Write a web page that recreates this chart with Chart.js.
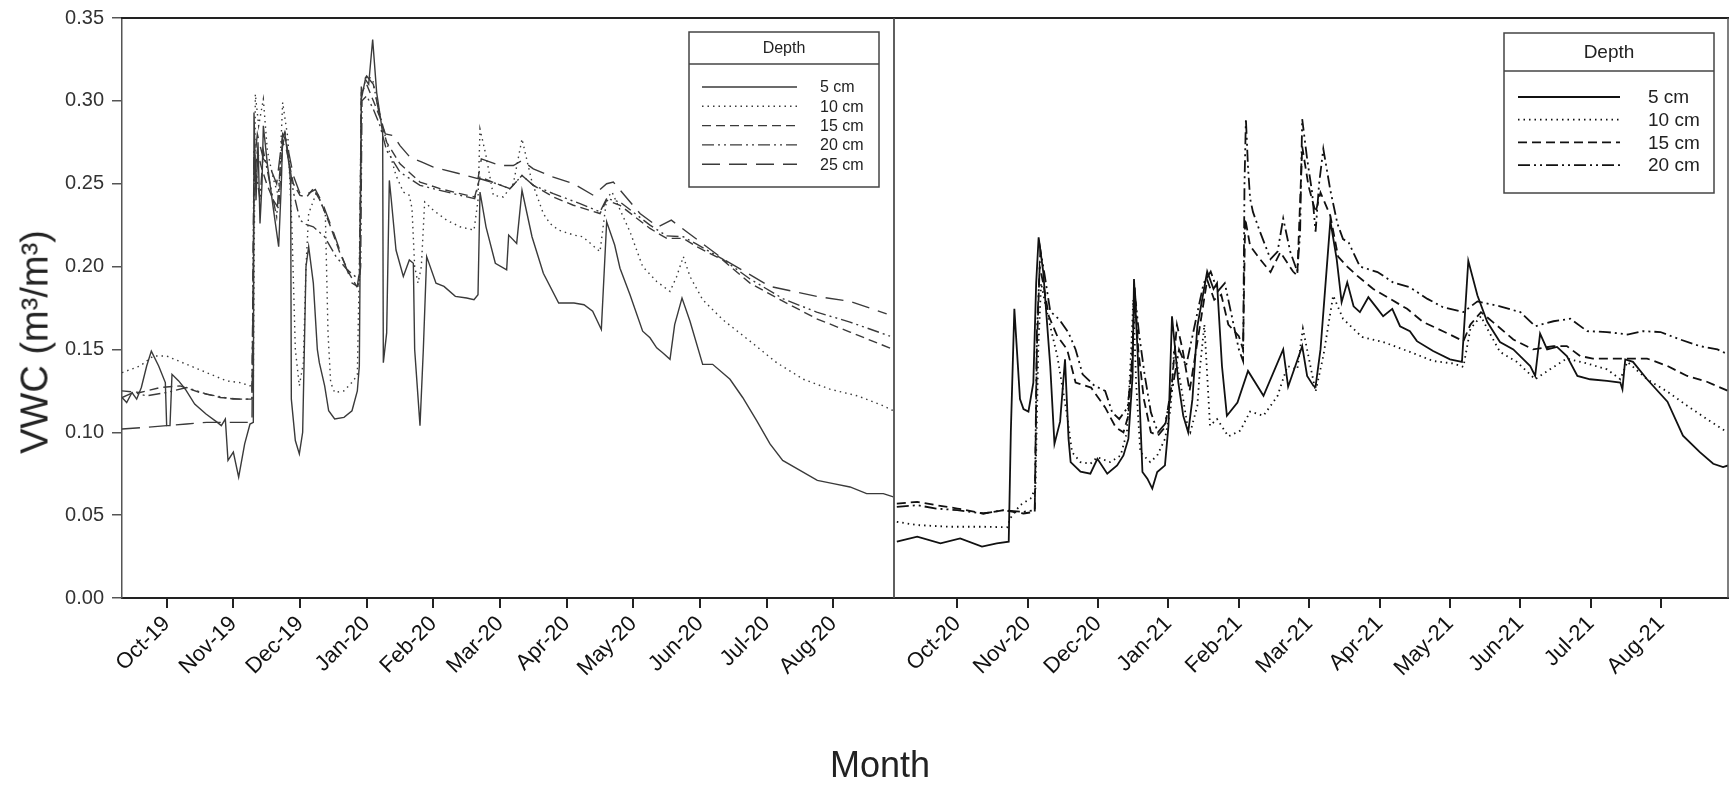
<!DOCTYPE html>
<html>
<head>
<meta charset="utf-8">
<script src="https://cdn.jsdelivr.net/npm/chart.js@4/dist/chart.umd.min.js"></script>
<style>
  body { margin: 0; background: #fff; width: 1731px; height: 789px; overflow: hidden; position: relative; font-family: "Liberation Sans", Arial, sans-serif; }
  #left { position: absolute; left: 0; top: 0; }
  #right { position: absolute; left: 880px; top: 0; }
  #ytitle { position: absolute; left: 35px; top: 342px; transform: translate(-50%, -50%) rotate(-90deg); font-size: 38px; white-space: nowrap; color: #222; }
  #xtitle { position: absolute; left: 880px; top: 765px; transform: translate(-50%, -50%); font-size: 36px; color: #222; }
</style>
</head>
<body>
<canvas id="left" width="896" height="789"></canvas>
<canvas id="right" width="851" height="789"></canvas>
<div id="ytitle">VWC (m³/m³)</div>
<div id="xtitle">Month</div>
<script>
// x values are months counted from the first tick (Oct), y values are VWC
const leftMonths = ['Oct-19', 'Nov-19', 'Dec-19', 'Jan-20', 'Feb-20', 'Mar-20', 'Apr-20', 'May-20', 'Jun-20', 'Jul-20', 'Aug-20']
const rightMonths = ['Oct-20', 'Nov-20', 'Dec-20', 'Jan-21', 'Feb-21', 'Mar-21', 'Apr-21', 'May-21', 'Jun-21', 'Jul-21', 'Aug-21']
const depths = ['5 cm', '10 cm', '15 cm', '20 cm', '25 cm']
const yTicks = [0, 0.05, 0.10, 0.15, 0.20, 0.25, 0.30, 0.35]

const left5 = [[-0.67,0.121],[-0.6,0.118],[-0.52,0.124],[-0.45,0.12],[-0.38,0.127],[-0.3,0.14],[-0.23,0.149],[-0.12,0.14],[-0.02,0.13],[0,0.104],[0.05,0.104],[0.08,0.135],[0.18,0.131],[0.28,0.126],[0.42,0.117],[0.59,0.111],[0.76,0.106],[0.82,0.104],[0.88,0.108],[0.92,0.083],[1,0.088],[1.08,0.073],[1.17,0.093],[1.25,0.105],[1.3,0.106],[1.31,0.293],[1.34,0.24],[1.37,0.275],[1.4,0.226],[1.43,0.25],[1.45,0.285],[1.51,0.262],[1.6,0.235],[1.68,0.212],[1.72,0.25],[1.74,0.278],[1.77,0.281],[1.84,0.26],[1.86,0.25],[1.87,0.12],[1.93,0.095],[1.99,0.087],[2.04,0.1],[2.09,0.2],[2.13,0.212],[2.2,0.19],[2.26,0.15],[2.29,0.142],[2.37,0.128],[2.43,0.113],[2.52,0.108],[2.66,0.109],[2.78,0.113],[2.86,0.125],[2.89,0.14],[2.92,0.301],[2.98,0.313],[3.03,0.31],[3.09,0.337],[3.15,0.305],[3.21,0.289],[3.24,0.28],[3.25,0.142],[3.3,0.16],[3.34,0.252],[3.37,0.24],[3.44,0.21],[3.55,0.194],[3.64,0.204],[3.7,0.202],[3.72,0.15],[3.8,0.104],[3.85,0.15],[3.9,0.206],[4.04,0.19],[4.16,0.188],[4.33,0.182],[4.5,0.181],[4.61,0.18],[4.67,0.183],[4.7,0.245],[4.79,0.224],[4.93,0.202],[5.1,0.198],[5.13,0.219],[5.25,0.214],[5.33,0.246],[5.48,0.218],[5.65,0.196],[5.88,0.178],[6.11,0.178],[6.26,0.177],[6.39,0.173],[6.52,0.162],[6.6,0.227],[6.72,0.213],[6.8,0.199],[6.95,0.183],[7.14,0.161],[7.25,0.157],[7.35,0.151],[7.44,0.148],[7.55,0.144],[7.62,0.165],[7.73,0.181],[7.85,0.167],[8.04,0.141],[8.19,0.141],[8.45,0.132],[8.64,0.121],[8.85,0.107],[9.05,0.093],[9.24,0.083],[9.5,0.077],[9.76,0.071],[10,0.069],[10.25,0.067],[10.5,0.063],[10.75,0.063],[10.9,0.061]]
const left10 = [[-0.67,0.136],[-0.4,0.14],[-0.2,0.146],[0,0.146],[0.3,0.141],[0.6,0.136],[0.9,0.131],[1.1,0.13],[1.25,0.128],[1.3,0.13],[1.33,0.304],[1.38,0.285],[1.45,0.301],[1.51,0.27],[1.6,0.253],[1.68,0.242],[1.74,0.299],[1.82,0.277],[1.88,0.222],[1.93,0.15],[1.99,0.128],[2.05,0.142],[2.09,0.2],[2.13,0.232],[2.25,0.245],[2.38,0.232],[2.42,0.16],[2.46,0.13],[2.52,0.124],[2.66,0.125],[2.8,0.131],[2.86,0.135],[2.89,0.2],[2.92,0.303],[3,0.315],[3.09,0.313],[3.15,0.3],[3.24,0.285],[3.3,0.275],[3.44,0.255],[3.55,0.245],[3.64,0.243],[3.68,0.235],[3.72,0.2],[3.77,0.19],[3.82,0.2],[3.87,0.239],[4,0.234],[4.2,0.228],[4.4,0.224],[4.61,0.222],[4.67,0.24],[4.7,0.283],[4.79,0.267],[4.9,0.243],[5.05,0.242],[5.2,0.25],[5.33,0.277],[5.48,0.251],[5.65,0.232],[5.75,0.226],[5.88,0.222],[6.11,0.219],[6.24,0.218],[6.5,0.209],[6.6,0.241],[6.68,0.245],[6.95,0.221],[7.14,0.2],[7.35,0.191],[7.55,0.185],[7.65,0.194],[7.75,0.206],[7.85,0.194],[8.04,0.18],[8.34,0.168],[8.75,0.155],[9.15,0.142],[9.55,0.132],[9.95,0.126],[10.36,0.122],[10.75,0.116],[10.9,0.113]]
const left15 = [[-0.67,0.125],[-0.4,0.124],[-0.1,0.127],[0.2,0.128],[0.5,0.124],[0.8,0.121],[1.1,0.12],[1.28,0.12],[1.31,0.25],[1.36,0.27],[1.42,0.26],[1.5,0.25],[1.6,0.24],[1.68,0.235],[1.74,0.275],[1.8,0.27],[1.9,0.25],[2,0.243],[2.1,0.242],[2.2,0.247],[2.3,0.24],[2.45,0.225],[2.6,0.208],[2.75,0.195],[2.85,0.188],[2.89,0.19],[2.92,0.305],[3,0.31],[3.1,0.3],[3.2,0.29],[3.3,0.275],[3.5,0.262],[3.8,0.251],[4.1,0.247],[4.4,0.244],[4.62,0.242],[4.7,0.254],[4.95,0.25],[5.15,0.247],[5.33,0.255],[5.5,0.249],[5.8,0.242],[6.1,0.237],[6.5,0.232],[6.6,0.24],[6.8,0.237],[7.25,0.223],[7.5,0.217],[7.75,0.217],[7.95,0.212],[8.34,0.204],[8.75,0.19],[9.25,0.179],[9.75,0.1685],[10.25,0.1605],[10.9,0.15]]
const left20 = [[-0.67,0.121],[-0.5,0.124],[-0.3,0.122],[0,0.124],[0.3,0.127],[0.6,0.123],[1,0.12],[1.28,0.12],[1.31,0.27],[1.35,0.255],[1.4,0.24],[1.45,0.27],[1.55,0.25],[1.65,0.23],[1.72,0.27],[1.78,0.28],[1.9,0.245],[2,0.228],[2.09,0.2255],[2.2,0.224],[2.37,0.218],[2.54,0.206],[2.71,0.198],[2.89,0.192],[2.91,0.2],[2.93,0.3],[3,0.303],[3.1,0.295],[3.2,0.285],[3.3,0.27],[3.5,0.257],[3.8,0.249],[4.1,0.246],[4.4,0.243],[4.62,0.241],[4.7,0.253],[4.95,0.25],[5.15,0.247],[5.33,0.255],[5.5,0.249],[5.8,0.244],[6.2,0.238],[6.5,0.233],[6.6,0.241],[6.8,0.239],[7.25,0.225],[7.5,0.2185],[7.75,0.218],[7.95,0.2135],[8.34,0.2045],[8.75,0.1925],[9.25,0.1805],[9.75,0.1725],[10.25,0.1665],[10.85,0.158]]
const left25 = [[-0.67,0.102],[-0.3,0.103],[0,0.104],[0.3,0.105],[0.6,0.106],[1,0.106],[1.28,0.106],[1.31,0.26],[1.36,0.28],[1.45,0.265],[1.55,0.26],[1.65,0.25],[1.74,0.28],[1.8,0.275],[1.9,0.255],[2,0.244],[2.09,0.2435],[2.23,0.2465],[2.34,0.238],[2.49,0.222],[2.63,0.206],[2.78,0.19],[2.86,0.188],[2.9,0.2],[2.92,0.31],[3,0.315],[3.1,0.31],[3.2,0.29],[3.28,0.28],[3.4,0.279],[3.5,0.273],[3.65,0.266],[3.83,0.263],[4,0.26],[4.4,0.256],[4.67,0.253],[4.72,0.265],[5,0.261],[5.2,0.261],[5.33,0.264],[5.5,0.259],[5.8,0.254],[6.1,0.25],[6.4,0.243],[6.6,0.25],[6.7,0.251],[7.1,0.232],[7.37,0.224],[7.57,0.228],[7.8,0.221],[8.35,0.2045],[9.05,0.188],[9.75,0.182],[10.25,0.179],[10.8,0.1715]]

const right5 = [[-0.86,0.034],[-0.57,0.037],[-0.24,0.033],[0.04,0.036],[0.35,0.031],[0.56,0.033],[0.73,0.034],[0.76,0.1],[0.81,0.1745],[0.89,0.12],[0.94,0.114],[1.01,0.1125],[1.08,0.13],[1.12,0.19],[1.155,0.2176],[1.22,0.197],[1.32,0.14],[1.38,0.093],[1.46,0.1064],[1.53,0.144],[1.58,0.096],[1.61,0.082],[1.75,0.0763],[1.89,0.075],[1.99,0.084],[2.13,0.075],[2.27,0.08],[2.36,0.086],[2.43,0.096],[2.49,0.134],[2.51,0.1925],[2.56,0.15],[2.63,0.076],[2.7,0.072],[2.77,0.066],[2.84,0.076],[2.95,0.08],[3,0.104],[3.05,0.17],[3.14,0.13],[3.21,0.11],[3.28,0.1],[3.34,0.12],[3.41,0.164],[3.55,0.197],[3.64,0.1865],[3.69,0.19],[3.76,0.14],[3.83,0.11],[3.98,0.118],[4.13,0.137],[4.35,0.122],[4.63,0.15],[4.7,0.1275],[4.9,0.152],[4.97,0.134],[5.06,0.128],[5.09,0.1275],[5.16,0.15],[5.3,0.2276],[5.39,0.2045],[5.46,0.1785],[5.54,0.1905],[5.63,0.176],[5.72,0.1725],[5.84,0.1815],[5.97,0.1745],[6.05,0.17],[6.18,0.1745],[6.29,0.164],[6.43,0.161],[6.53,0.155],[6.76,0.149],[7,0.144],[7.17,0.1425],[7.26,0.2035],[7.39,0.1825],[7.53,0.1665],[7.71,0.1545],[7.9,0.15],[8.14,0.14],[8.21,0.134],[8.28,0.1595],[8.38,0.15],[8.52,0.1515],[8.66,0.146],[8.81,0.134],[8.99,0.132],[9.23,0.131],[9.42,0.13],[9.45,0.126],[9.49,0.144],[9.6,0.1425],[9.8,0.132],[10.09,0.1185],[10.31,0.098],[10.55,0.088],[10.74,0.081],[10.88,0.079],[10.95,0.08]]
const right10 = [[-0.86,0.046],[-0.57,0.044],[-0.1,0.043],[0.37,0.043],[0.71,0.0427],[0.75,0.048],[0.89,0.056],[1.04,0.06],[1.11,0.066],[1.15,0.15],[1.19,0.19],[1.26,0.175],[1.32,0.164],[1.42,0.146],[1.56,0.11],[1.63,0.088],[1.75,0.082],[1.89,0.081],[1.99,0.085],[2.17,0.082],[2.32,0.086],[2.41,0.1],[2.47,0.15],[2.5,0.18],[2.54,0.13],[2.6,0.088],[2.74,0.082],[2.84,0.086],[2.95,0.096],[3.03,0.114],[3.08,0.15],[3.17,0.13],[3.27,0.104],[3.31,0.1],[3.41,0.116],[3.45,0.14],[3.51,0.165],[3.59,0.104],[3.69,0.108],[3.85,0.0975],[4.02,0.101],[4.16,0.1125],[4.35,0.11],[4.55,0.122],[4.69,0.14],[4.83,0.138],[4.91,0.1625],[5.09,0.1245],[5.2,0.146],[5.34,0.1825],[5.48,0.1685],[5.75,0.1575],[6.05,0.1545],[6.43,0.1485],[6.76,0.143],[7.05,0.1415],[7.19,0.1395],[7.29,0.1625],[7.44,0.17],[7.53,0.1625],[7.71,0.1485],[7.95,0.1425],[8.21,0.132],[8.42,0.138],[8.66,0.1445],[8.95,0.1415],[9.23,0.138],[9.42,0.132],[9.52,0.1425],[9.8,0.132],[10.09,0.1245],[10.37,0.116],[10.65,0.108],[10.94,0.1]]
const right15 = [[-0.86,0.057],[-0.57,0.058],[-0.3,0.056],[0,0.054],[0.37,0.051],[0.65,0.053],[0.94,0.051],[1.1,0.052],[1.13,0.15],[1.17,0.2],[1.22,0.19],[1.3,0.17],[1.42,0.158],[1.56,0.15],[1.68,0.13],[1.9,0.127],[2.1,0.115],[2.25,0.103],[2.36,0.1],[2.43,0.11],[2.49,0.15],[2.52,0.188],[2.57,0.15],[2.65,0.12],[2.75,0.1],[2.85,0.098],[2.95,0.103],[3.05,0.13],[3.12,0.165],[3.2,0.15],[3.3,0.125],[3.45,0.165],[3.55,0.192],[3.65,0.18],[3.75,0.183],[3.85,0.165],[4,0.158],[4.06,0.15],[4.09,0.229],[4.16,0.2125],[4.3,0.2045],[4.45,0.1967],[4.59,0.2087],[4.77,0.197],[4.83,0.1945],[4.9,0.2725],[4.99,0.2485],[5.09,0.2327],[5.16,0.2447],[5.3,0.2306],[5.41,0.206],[5.54,0.2],[5.68,0.1945],[5.91,0.1865],[6.15,0.1805],[6.39,0.1745],[6.62,0.1665],[6.9,0.161],[7.19,0.155],[7.29,0.165],[7.44,0.1725],[7.61,0.1665],[7.9,0.156],[8.18,0.15],[8.47,0.152],[8.66,0.152],[8.85,0.146],[9.03,0.1445],[9.42,0.1445],[9.8,0.1445],[10.09,0.14],[10.37,0.134],[10.65,0.1305],[10.95,0.125]]
const right20 = [[-0.86,0.055],[-0.57,0.056],[-0.3,0.054],[0,0.053],[0.37,0.051],[0.65,0.053],[0.94,0.052],[1.1,0.053],[1.13,0.16],[1.18,0.21],[1.24,0.195],[1.32,0.173],[1.45,0.168],[1.58,0.16],[1.68,0.15],[1.78,0.135],[1.95,0.128],[2.1,0.125],[2.2,0.112],[2.3,0.108],[2.42,0.115],[2.48,0.14],[2.52,0.185],[2.58,0.16],[2.66,0.135],[2.75,0.112],[2.85,0.1],[2.95,0.105],[3.05,0.125],[3.15,0.15],[3.25,0.14],[3.35,0.16],[3.5,0.19],[3.6,0.197],[3.7,0.185],[3.8,0.19],[3.9,0.17],[4,0.15],[4.06,0.143],[4.08,0.25],[4.1,0.289],[4.13,0.26],[4.16,0.241],[4.2,0.233],[4.3,0.221],[4.45,0.2045],[4.55,0.209],[4.63,0.229],[4.73,0.209],[4.83,0.197],[4.87,0.22],[4.9,0.289],[4.97,0.265],[5.04,0.245],[5.09,0.221],[5.14,0.25],[5.2,0.271],[5.3,0.246],[5.4,0.226],[5.48,0.2166],[5.56,0.2145],[5.72,0.2],[5.97,0.1967],[6.19,0.1905],[6.43,0.1875],[6.68,0.1805],[6.9,0.1755],[7.19,0.1725],[7.39,0.179],[7.71,0.176],[8,0.1725],[8.21,0.164],[8.47,0.167],[8.71,0.1685],[8.95,0.161],[9.23,0.1605],[9.52,0.159],[9.74,0.161],[9.99,0.1605],[10.27,0.156],[10.55,0.152],[10.8,0.15],[10.95,0.147]]

const dashes = [[], [1.5, 4], [9, 5], [12, 4, 2, 4, 2, 4], [18, 9]]

const frame = {
  id: 'frame',
  afterDatasetsDraw(chart, args, o) {
    const { ctx, chartArea: a } = chart
    ctx.save()
    ctx.strokeStyle = '#222'
    ctx.lineWidth = 2
    ctx.beginPath()
    ctx.moveTo(a.left - 1, a.top)
    ctx.lineTo(a.right + 1, a.top)
    ctx.stroke()
    ctx.strokeStyle = '#555'
    ctx.lineWidth = 1.5
    ctx.beginPath()
    if (o.left) {
      ctx.moveTo(a.left, a.top)
      ctx.lineTo(a.left, a.bottom)
    }
    ctx.moveTo(a.right, a.top)
    ctx.lineTo(a.right, a.bottom)
    ctx.stroke()
    ctx.restore()
  }
}

const depthLegend = {
  id: 'depthLegend',
  afterDraw(chart, args, o) {
    const { ctx, chartArea: a } = chart
    const x = a.right - o.right - o.width
    const y = a.top + o.top
    ctx.save()
    ctx.fillStyle = '#fff'
    ctx.fillRect(x, y, o.width, o.height)
    ctx.strokeStyle = '#444'
    ctx.lineWidth = 1.5
    ctx.strokeRect(x, y, o.width, o.height)
    ctx.beginPath()
    ctx.moveTo(x, y + o.header)
    ctx.lineTo(x + o.width, y + o.header)
    ctx.stroke()
    ctx.fillStyle = '#222'
    ctx.font = o.font
    ctx.textBaseline = 'middle'
    ctx.textAlign = 'center'
    ctx.fillText('Depth', x + o.width / 2, y + o.header / 2 + 1)
    ctx.textAlign = 'left'
    chart.data.datasets.forEach((ds, i) => {
      const ry = y + o.header + o.firstRow + i * o.rowGap
      ctx.strokeStyle = ds.borderColor
      ctx.lineWidth = ds.borderWidth
      ctx.setLineDash(ds.borderDash)
      ctx.beginPath()
      ctx.moveTo(x + o.sampleFrom, ry)
      ctx.lineTo(x + o.sampleTo, ry)
      ctx.stroke()
      ctx.setLineDash([])
      ctx.fillText(ds.label, x + o.textAt, ry + 1)
    })
    ctx.restore()
  }
}

function makeDatasets(series, color, width) {
  return series.map((points, i) => ({
    label: depths[i],
    data: points.map(p => ({ x: p[0], y: p[1] })),
    borderColor: color,
    borderWidth: width,
    borderDash: dashes[i],
    pointRadius: 0,
    tension: 0,
    fill: false
  }))
}

function xScale(labels, min, max) {
  return {
    type: 'linear',
    min: min,
    max: max,
    afterBuildTicks: (s) => { s.ticks = labels.map((_, i) => ({ value: i })) },
    afterFit: (s) => { s.height = 191; s.paddingLeft = 0; s.paddingRight = 0 },
    ticks: {
      callback: (v) => labels[v],
      autoSkip: false,
      minRotation: 45,
      maxRotation: 45,
      padding: 3,
      color: '#111',
      font: { family: '"Liberation Sans", Arial, sans-serif', size: 22 }
    },
    grid: { drawOnChartArea: false, drawTicks: true, tickLength: 10, color: '#222', lineWidth: 2 },
    border: { display: true, color: '#222', width: 2 }
  }
}

function yScale(show) {
  return {
    display: show,
    min: 0,
    max: 0.35,
    afterBuildTicks: (s) => { s.ticks = yTicks.map(v => ({ value: v })) },
    afterFit: (s) => { s.width = show ? 122 : 0; s.paddingTop = 0; s.paddingBottom = 0 },
    ticks: {
      callback: (v) => v.toFixed(2),
      padding: 8,
      color: '#333',
      font: { family: '"Liberation Sans", Arial, sans-serif', size: 20 }
    },
    grid: { drawOnChartArea: false, drawTicks: true, tickLength: 10, color: '#555', lineWidth: 1.5 },
    border: { display: true, color: '#555', width: 1.5 }
  }
}

new Chart(document.getElementById('left'), {
  type: 'line',
  data: { datasets: makeDatasets([left5, left10, left15, left20, left25], '#3a3a3a', 1.4) },
  options: {
    responsive: false,
    animation: false,
    events: [],
    layout: { padding: { left: 0, right: 2, top: 18, bottom: 0 } },
    scales: { x: xScale(leftMonths, -0.67, 10.91), y: yScale(true) },
    plugins: {
      legend: { display: false },
      tooltip: { enabled: false },
      frame: { left: false },
      depthLegend: {
        right: 15, top: 14, width: 190, height: 155, header: 32,
        firstRow: 23, rowGap: 19.3, sampleFrom: 13, sampleTo: 108, textAt: 131,
        font: '16px "Liberation Sans", Arial, sans-serif'
      }
    }
  },
  plugins: [frame, depthLegend]
})

new Chart(document.getElementById('right'), {
  type: 'line',
  data: { datasets: makeDatasets([right5, right10, right15, right20], '#111', 1.8) },
  options: {
    responsive: false,
    animation: false,
    events: [],
    layout: { padding: { left: 14, right: 3, top: 18, bottom: 0 } },
    scales: { x: xScale(rightMonths, -0.9, 10.95), y: yScale(false) },
    plugins: {
      legend: { display: false },
      tooltip: { enabled: false },
      frame: { left: true },
      depthLegend: {
        right: 14, top: 15, width: 210, height: 160, header: 38,
        firstRow: 26, rowGap: 22.7, sampleFrom: 14, sampleTo: 116, textAt: 144,
        font: '19px "Liberation Sans", Arial, sans-serif'
      }
    }
  },
  plugins: [frame, depthLegend]
})
</script>
</body>
</html>
